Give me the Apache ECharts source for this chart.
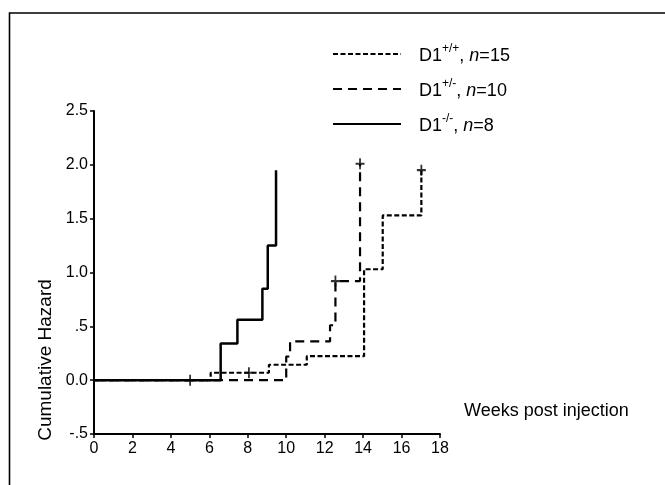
<!DOCTYPE html>
<html>
<head>
<meta charset="utf-8">
<script src="https://cdn.jsdelivr.net/npm/echarts@6/dist/echarts.min.js"></script>
<style>
html,body{margin:0;padding:0;background:#fff;}
#c{width:665px;height:485px;}
</style>
</head>
<body>
<div id="c"></div>
<script>
// ---- data ----
const seriesNames = ['D1+/+', 'D1+/-', 'D1-/-'];
const seriesN = [15, 10, 8];
const supText = ['+/+', '+/-', '-/-'];

const weeksWT  = [0, 6.07, 9.10, 11.07, 14.05, 15.02, 17.03];
const hazardWT = [0, 0.069, 0.143, 0.223, 1.03, 1.53, 1.95];

const weeksHet  = [0, 10.0, 10.2, 12.28, 12.56, 13.84];
const hazardHet = [0, 0.22, 0.36, 0.51, 0.92, 2.01];

const weeksKO  = [0, 6.59, 7.46, 8.76, 9.04, 9.47];
const hazardKO = [0, 0.34, 0.56, 0.85, 1.25, 1.95];

// censored observations
const censorWeeks  = [5.0, 8.06, 12.56, 13.84, 17.03];
const censorHazard = [0, 0.069, 0.92, 2.01, 1.95];

const xTicks = [0, 2, 4, 6, 8, 10, 12, 14, 16, 18];
const yTickValues = [-0.5, 0, 0.5, 1.0, 1.5, 2.0, 2.5];
const yTickLabels = ['-.5', '0.0', '.5', '1.0', '1.5', '2.0', '2.5'];

// ---- build ----
function zip(a, b) { return a.map((v, i) => [v, b[i]]); }

const chart = echarts.init(document.getElementById('c'), null, {renderer: 'canvas'});
const FONT = '"Liberation Sans", Arial, sans-serif';

const plusPath = 'path://M4,0h2v4h4v2h-4v4h-2v-4h-4v-2h4z';

const lineCommon = {
  type: 'line',
  step: 'end',
  symbol: 'none',
  showSymbol: false,
  silent: true,
  animation: false
};

const option = {
  animation: false,
  backgroundColor: '#fff',
  grid: {left: 94, right: 225, top: 111, bottom: 51, containLabel: false},
  xAxis: {
    type: 'value',
    min: 0, max: 18, interval: 2,
    axisLine: {show: true, onZero: false, lineStyle: {color: '#000', width: 2}},
    axisTick: {show: true, length: 4, lineStyle: {color: '#000', width: 1.5}},
    axisLabel: {
      color: '#000', fontFamily: FONT, fontSize: 16, margin: 7,
      formatter: v => xTicks.includes(v) ? String(v) : ''
    },
    splitLine: {show: false}
  },
  yAxis: {
    type: 'value',
    min: -0.5, max: 2.5, interval: 0.5,
    axisLine: {show: true, onZero: false, lineStyle: {color: '#000', width: 2}},
    axisTick: {show: true, length: 4, lineStyle: {color: '#000', width: 1.5}},
    axisLabel: {
      color: '#000', fontFamily: FONT, fontSize: 16, margin: 6,
      formatter: v => {
        const i = yTickValues.findIndex(t => Math.abs(t - v) < 1e-9);
        return i >= 0 ? yTickLabels[i] : '';
      }
    },
    splitLine: {show: false}
  },
  legend: {
    data: seriesNames,
    orient: 'vertical',
    left: 332, top: 43, padding: 0,
    itemWidth: 68, itemHeight: 22, itemGap: 13,
    selectedMode: false,
    itemStyle: {opacity: 0},
    textStyle: {
      color: '#000', fontFamily: FONT, fontSize: 18, padding: [0, 0, 0, 13],
      rich: {
        a: {fontFamily: FONT, fontSize: 18, color: '#000', lineHeight: 22, verticalAlign: 'bottom'},
        s: {fontFamily: FONT, fontSize: 12, color: '#000', lineHeight: 22, verticalAlign: 'top', padding: [0,0,8,0]},
        i: {fontFamily: FONT, fontSize: 18, fontStyle: 'italic', color: '#000', lineHeight: 22, verticalAlign: 'bottom'}
      }
    },
    formatter: name => {
      const k = seriesNames.indexOf(name);
      return '{a|D1}{s|' + supText[k] + '}{a|, }{i|n}{a|=' + seriesN[k] + '}';
    }
  },
  graphic: [
    {
      type: 'rect', silent: true, z: -1,
      shape: {x: 9.5, y: 13, width: 720, height: 520},
      style: {fill: 'none', stroke: '#000', lineWidth: 1.6}
    },
    {
      type: 'text', silent: true,
      x: 46, y: 360, rotation: Math.PI / 2,
      style: {text: 'Cumulative Hazard', font: '19px ' + FONT, fill: '#000',
              align: 'center', verticalAlign: 'middle'}
    },
    {
      type: 'text', silent: true,
      x: 464, y: 411,
      style: {text: 'Weeks post injection', font: '18px ' + FONT, fill: '#000',
              align: 'left', verticalAlign: 'middle'}
    }
  ],
  series: [
    Object.assign({}, lineCommon, {
      name: seriesNames[0],
      data: zip(weeksWT, hazardWT),
      itemStyle: {color: '#000'},
      lineStyle: {color: '#000', width: 2.2, type: [5, 2.5]},
      z: 2
    }),
    Object.assign({}, lineCommon, {
      name: seriesNames[1],
      data: zip(weeksHet, hazardHet),
      itemStyle: {color: '#000'},
      lineStyle: {color: '#000', width: 2.2, type: [9, 6]},
      z: 3
    }),
    Object.assign({}, lineCommon, {
      name: seriesNames[2],
      data: zip(weeksKO, hazardKO),
      itemStyle: {color: '#000'},
      lineStyle: {color: '#000', width: 2.5, type: 'solid'},
      z: 4
    }),
    {
      type: 'scatter',
      name: 'censored',
      data: zip(censorWeeks, censorHazard),
      symbol: plusPath,
      symbolSize: [9, 11],
      itemStyle: {color: '#000'},
      silent: true,
      z: 5
    }
  ]
};
chart.setOption(option);
</script>
</body>
</html>
